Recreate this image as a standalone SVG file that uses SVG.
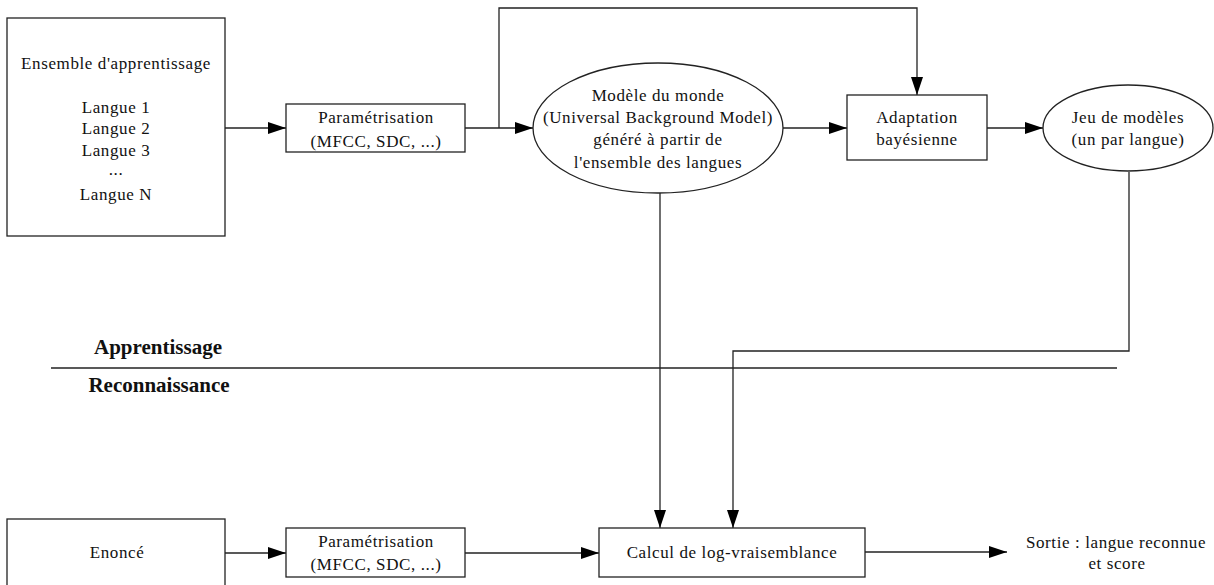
<svg xmlns="http://www.w3.org/2000/svg" width="1214" height="585" viewBox="0 0 1214 585">
<style>
.shape{fill:#fff;stroke:#222;stroke-width:1.3}
.t{font-family:"Liberation Serif","Times New Roman",serif;font-size:17px;letter-spacing:0.6px;fill:#111;text-anchor:middle}
.b{font-family:"Liberation Serif","Times New Roman",serif;font-size:21px;font-weight:bold;fill:#111;text-anchor:middle}
.c{fill:none;stroke:#222;stroke-width:1.3}
</style>
<defs>
<marker id="ah" markerUnits="userSpaceOnUse" markerWidth="18" markerHeight="12" refX="18" refY="6" orient="auto">
<path d="M0,0 L18,6 L0,12 z" fill="#000"/>
</marker>
</defs>
<rect width="1214" height="585" fill="#fff"/>
<g id="connectors">
<line class="c" x1="225" y1="128" x2="286" y2="128" marker-end="url(#ah)"/>
<line class="c" x1="465" y1="128" x2="533" y2="128" marker-end="url(#ah)"/>
<polyline class="c" points="499,128 499,8 917,8 917,95" marker-end="url(#ah)"/>
<line class="c" x1="783" y1="128" x2="847" y2="128" marker-end="url(#ah)"/>
<line class="c" x1="987" y1="128" x2="1043" y2="128" marker-end="url(#ah)"/>
<line class="c" x1="660" y1="193" x2="660" y2="528" marker-end="url(#ah)"/>
<polyline class="c" points="1129,172 1129,351 733,351 733,528" marker-end="url(#ah)"/>
<line class="c" x1="225" y1="553" x2="286" y2="553" marker-end="url(#ah)"/>
<line class="c" x1="465" y1="553" x2="599" y2="553" marker-end="url(#ah)"/>
<line class="c" x1="865" y1="552" x2="1007" y2="552" marker-end="url(#ah)"/>
</g>
<g id="separator">
<line class="c" x1="51" y1="368" x2="1117" y2="368"/>
<text class="b" x="158" y="354">Apprentissage</text>
<text class="b" x="159" y="392">Reconnaissance</text>
</g>
<g id="training-set">
<rect class="shape" x="7" y="18" width="218" height="218"/>
<text class="t" x="116" y="69">Ensemble d'apprentissage</text>
<text class="t" x="116" y="113">Langue 1</text>
<text class="t" x="116" y="134">Langue 2</text>
<text class="t" x="116" y="156">Langue 3</text>
<text class="t" x="116" y="175">...</text>
<text class="t" x="116" y="200">Langue N</text>
</g>
<g id="param-train">
<rect class="shape" x="286" y="104" width="179" height="48"/>
<text class="t" x="376" y="123">Paramétrisation</text>
<text class="t" x="376" y="147">(MFCC, SDC, ...)</text>
</g>
<g id="ubm">
<ellipse class="shape" cx="658" cy="128" rx="125" ry="65"/>
<text class="t" x="658" y="101">Modèle du monde</text>
<text class="t" x="658" y="123">(Universal Background Model)</text>
<text class="t" x="658" y="145">généré à partir de</text>
<text class="t" x="658" y="168">l'ensemble des langues</text>
</g>
<g id="adaptation">
<rect class="shape" x="847" y="95" width="140" height="65"/>
<text class="t" x="917" y="123">Adaptation</text>
<text class="t" x="917" y="145">bayésienne</text>
</g>
<g id="models">
<ellipse class="shape" cx="1128" cy="128" rx="85" ry="43"/>
<text class="t" x="1128" y="123">Jeu de modèles</text>
<text class="t" x="1128" y="145">(un par langue)</text>
</g>
<g id="enonce">
<rect class="shape" x="7" y="519" width="218" height="80"/>
<text class="t" x="117" y="558">Enoncé</text>
</g>
<g id="param-test">
<rect class="shape" x="286" y="528" width="179" height="49"/>
<text class="t" x="376" y="547">Paramétrisation</text>
<text class="t" x="376" y="570">(MFCC, SDC, ...)</text>
</g>
<g id="calcul">
<rect class="shape" x="599" y="528" width="266" height="49"/>
<text class="t" x="732" y="558">Calcul de log-vraisemblance</text>
</g>
<g id="sortie">
<text class="t" x="1116" y="548">Sortie : langue reconnue</text>
<text class="t" x="1117" y="569">et score</text>
</g>
</svg>
